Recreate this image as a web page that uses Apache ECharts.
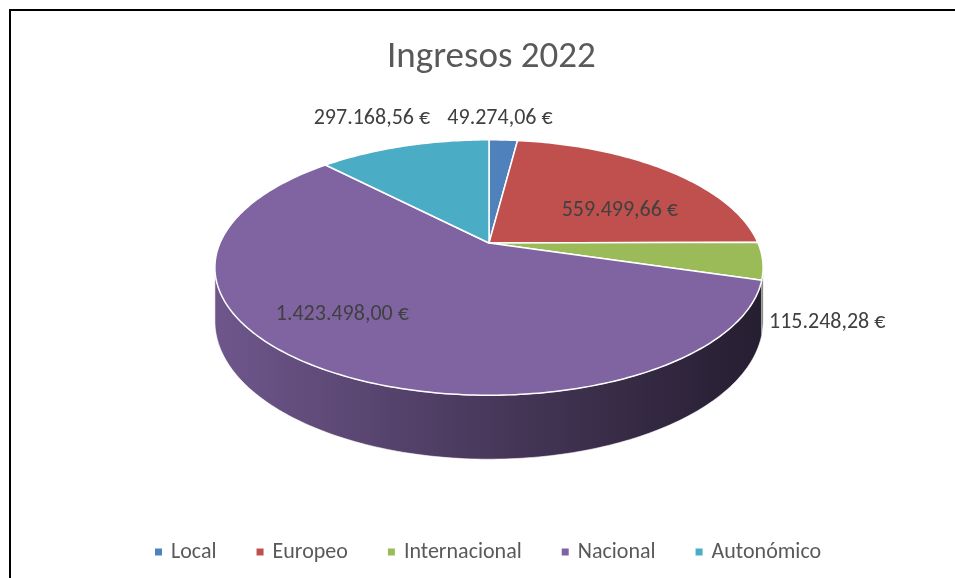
<!DOCTYPE html>
<html>
  <head>
    <meta charset="utf-8">
    <title>Ingresos 2022</title>
    <style>
    body {margin:0; background:#fff;}
    #main {width:955px; height:578px;}
    </style>
    <script src="https://cdn.jsdelivr.net/npm/echarts@6/dist/echarts.min.js"></script>
  </head>
  <body>
    <div id="main"></div>
    <script>
    const categories = ['Local', 'Europeo', 'Internacional', 'Nacional', 'Autonómico'];
    const values = [49274.06, 559499.66, 115248.28, 1423498.00, 297168.56];
    const colors = ['#4F81BD', '#C0504D', '#9BBB59', '#8064A2', '#4BACC6'];

    // where each label sits: [angle in degrees from top, radius factor]
    const labelLayout = [[2.3, 1.263], [61.2, 0.585], [117.3, 1.258], [223, 0.719], [336.8, 1.373]];

    const FONT = 'Carlito, Lato, "Open Sans", sans-serif';
    const cx = 489, cy = 243;   // pie centre
    const R = 269, S = 123;     // horizontal radius, vertical half-radius
    const p = 0.192;            // perspective
    const T = 51.7;             // thickness

    const total = values.reduce((a, b) => a + b, 0);
    const startAngles = [];
    let acc = 0;
    values.forEach(v => { startAngles.push(acc / total * 360); acc += v; });

    // visible part of the side wall
    const wallFrom = Math.acos(-p) * 180 / Math.PI;
    const wallTo = 360 - wallFrom;

    function proj(a, r, drop) {
      const rad = a * Math.PI / 180;
      const u = Math.sin(rad), v = Math.cos(rad);
      const f = 1 / (1 + p * v * r);
      return [cx + R * r * u * f, cy - S * r * v * f + drop * f];
    }

    function fmt(v) {
      const parts = v.toFixed(2).split('.');
      const int = parts[0].replace(/\B(?=(\d{3})+(?!\d))/g, '.');
      return int + ',' + parts[1] + ' €';
    }

    function shade(hex, k) {
      const n = parseInt(hex.slice(1), 16);
      const r = Math.round(((n >> 16) & 255) * k);
      const g = Math.round(((n >> 8) & 255) * k);
      const b = Math.round((n & 255) * k);
      return 'rgb(' + r + ',' + g + ',' + b + ')';
    }

    function renderSlice(idx) {
      return function (params, api) {
        const val = api.value(0);
        const a0 = startAngles[idx];
        const a1 = a0 + val / total * 360;
        const children = [];

        // side wall
        const w0 = Math.max(a0, wallFrom), w1 = Math.min(a1, wallTo);
        if (w1 > w0) {
          const top = [], bottom = [];
          const n = Math.max(2, Math.ceil(w1 - w0));
          for (let i = 0; i <= n; i++) {
            const a = w0 + (w1 - w0) * i / n;
            top.push(proj(a, 1, 0));
            bottom.push(proj(a, 1, T));
          }
          const col = colors[idx];
          children.push({
            type: 'polygon',
            shape: {points: top.concat(bottom.reverse())},
            style: {
              fill: new echarts.graphic.LinearGradient(cx - R, 0, cx + R, 0, [
                {offset: 0, color: shade(col, 0.86)},
                {offset: 0.5, color: shade(col, 0.56)},
                {offset: 1, color: shade(col, 0.3)}
              ], true),
              stroke: '#fff',
              lineWidth: 0.6
            }
          });
        }

        // top face
        const pts = [[cx, cy]];
        const n = Math.max(2, Math.ceil(a1 - a0));
        for (let i = 0; i <= n; i++) {
          pts.push(proj(a0 + (a1 - a0) * i / n, 1, 0));
        }
        children.push({
          type: 'polygon',
          shape: {points: pts},
          style: {fill: colors[idx], stroke: '#fff', lineWidth: 1.5, lineJoin: 'round'}
        });

        // data label
        const lp = proj(labelLayout[idx][0], labelLayout[idx][1], 0);
        children.push({
          type: 'text',
          style: {
            text: fmt(val), x: lp[0], y: lp[1],
            align: 'center', verticalAlign: 'middle',
            fill: '#404040', fontSize: 22, fontFamily: FONT
          }
        });

        return {type: 'group', children: children};
      };
    }

    const chart = echarts.init(document.getElementById('main'));
    chart.setOption({
      animation: false,
      title: {
        text: 'Ingresos 2022',
        left: 382,
        top: 34,
        textStyle: {fontSize: 37, fontWeight: 'normal', color: '#595959', fontFamily: FONT}
      },
      legend: {
        data: categories,
        top: 536,
        left: 150,
        icon: 'rect',
        itemWidth: 7,
        itemHeight: 7,
        itemGap: 40,
        textStyle: {fontSize: 22, color: '#595959', fontFamily: FONT, padding: [0, 0, 0, 4]}
      },
      graphic: [{
        type: 'rect',
        shape: {x: 10, y: 10, width: 1000, height: 1000},
        style: {fill: 'none', stroke: '#000', lineWidth: 2}
      }],
      series: categories.map((name, i) => ({
        type: 'custom',
        name: name,
        coordinateSystem: 'none',
        itemStyle: {color: colors[i]},
        data: [[values[i]]],
        renderItem: renderSlice(i)
      }))
    });
    </script>
  </body>
</html>
